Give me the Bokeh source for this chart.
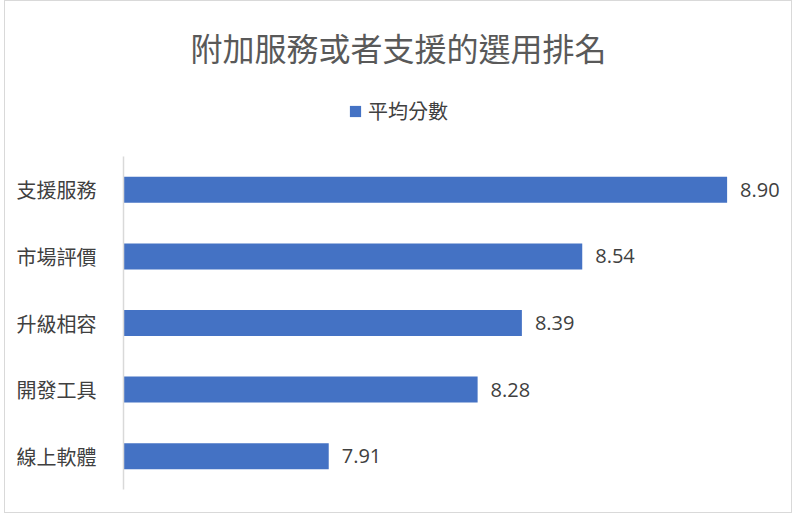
from bokeh.plotting import figure
from bokeh.layouts import column
from bokeh.models import Range1d, FactorRange, Legend, LegendItem, ColumnDataSource, Label
from bokeh.core.properties import value
from bokeh.embed import file_html
from bokeh.resources import INLINE

# data
categories = ["支援服務", "市場評價", "升級相容", "開發工具", "線上軟體"]
scores = [8.90, 8.54, 8.39, 8.28, 7.91]
score_labels = ["8.90", "8.54", "8.39", "8.28", "7.91"]
series_name = "平均分數"
chart_title = "附加服務或者支援的選用排名"

CJK = "Noto Sans CJK TC"
BAR_COLOR = "#4472C4"
W = 786
HEAD_H = 155
LEFT = 118  # frame left edge, shared by both figures in the column

source = ColumnDataSource(data=dict(cat=categories, score=scores, label=score_labels))

# header: title + legend (column aligns its frame with the bar chart's frame)
head = figure(width=W, height=HEAD_H, output_backend="svg", toolbar_location=None,
              x_axis_type=None, y_axis_type=None,
              x_range=Range1d(LEFT, W), y_range=Range1d(0, HEAD_H),
              min_border=0, min_border_left=LEFT)
head.grid.visible = False
head.outline_line_color = None
head.add_layout(Label(x=W / 2, y=HEAD_H - 45, text=chart_title, text_align="center",
                      text_baseline="middle", text_font=CJK, text_font_size="32px",
                      text_color="#595959"))
# hidden renderer, only used for the legend swatch
swatch = head.hbar(y="score", right="score", height=0, source=source,
                   fill_color=BAR_COLOR, line_color=None, visible=False)
head.add_layout(Legend(items=[LegendItem(label=series_name, renderers=[swatch])],
                       orientation="horizontal", location=(225, 31),
                       label_text_font=CJK, label_text_font_size="20px", label_text_color="#404040",
                       glyph_width=14, glyph_height=14, border_line_color=None,
                       inactive_fill_alpha=0, background_fill_alpha=0,
                       margin=0, padding=4, label_standoff=6))

# bars
p = figure(width=W, height=356, output_backend="svg", toolbar_location=None,
           y_range=FactorRange(*reversed(categories)), x_range=Range1d(7.4, 9.06),
           min_border_left=LEFT, min_border_right=0, min_border_top=0, min_border_bottom=23)
p.outline_line_color = None
p.xgrid.grid_line_color = None
p.ygrid.grid_line_color = None
p.xaxis.visible = False

p.yaxis.axis_line_color = "#d9d9d9"
p.yaxis.axis_line_width = 1.5
p.yaxis.major_tick_line_color = None
p.yaxis.minor_tick_line_color = None
p.yaxis.major_label_text_font = CJK
p.yaxis.major_label_text_font_size = "20px"
p.yaxis.major_label_text_color = "#404040"
p.yaxis.major_label_standoff = 21

p.hbar(y="cat", right="score", left=7.4, height=0.39, source=source,
       fill_color=BAR_COLOR, line_color=None)

p.text(x="score", y="cat", text="label", source=source, x_offset=13,
       text_baseline="middle", text_align="left",
       text_font=value("Open Sans"), text_font_size="20px", text_color="#404040")

layout = column(head, p, spacing=0,
                styles={"border": "1px solid #d9d9d9", "margin-left": "4px"})

open("out.html", "w").write(file_html(layout, INLINE))
